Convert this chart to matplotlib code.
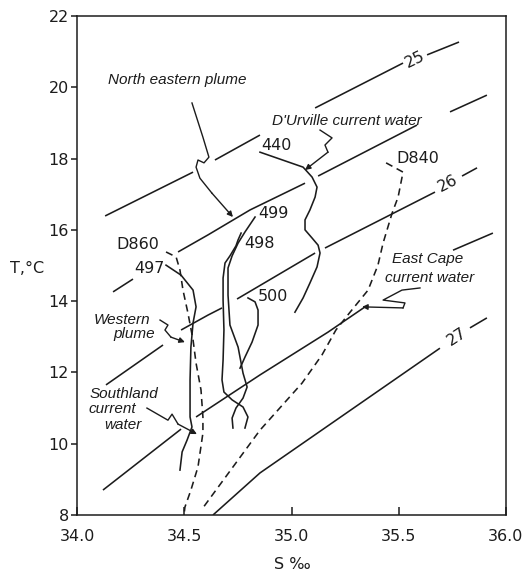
import matplotlib
matplotlib.use('Agg')
import matplotlib.pyplot as plt

# Sigma-t lines (S, T), each split into the drawn pieces
sigma_25 = [
    [(34.131, 16.39), (34.541, 17.62)],
    [(34.643, 17.96), (34.853, 18.66)],
    [(35.110, 19.42), (35.520, 20.68)],
    [(35.632, 20.91), (35.781, 21.27)],
]
sigma_255 = [
    [(34.168, 14.26), (34.261, 14.62)],
    [(34.471, 15.38), (34.611, 15.86), (34.807, 16.56), (35.063, 17.31)],
    [(35.124, 17.51), (35.585, 18.94)],
    [(35.739, 19.31), (35.911, 19.78)],
]
sigma_26 = [
    [(34.135, 11.65), (34.401, 12.77)],
    [(34.485, 13.19), (34.611, 13.61), (34.676, 13.81)],
    [(34.746, 14.06), (35.110, 15.35)],
    [(35.156, 15.49), (35.669, 17.06)],
    [(35.795, 17.51), (35.865, 17.74)],
]
sigma_265 = [
    [(34.121, 8.70), (34.485, 10.41)],
    [(34.555, 10.75), (34.853, 11.93), (35.170, 13.13), (35.343, 13.84)],
    [(35.753, 15.43), (35.939, 15.91)],
]
sigma_27 = [
    [(34.634, 8.00), (34.853, 9.18), (35.692, 12.68)],
    [(35.832, 13.25), (35.911, 13.53)],
]
sigma_labels = ['25', '26', '27']

# Station T-S curves
st_440 = [(34.853, 18.18), (35.054, 17.76), (35.096, 17.48), (35.119, 17.20),
          (35.110, 16.92), (35.086, 16.56), (35.063, 16.28), (35.063, 16.00),
          (35.096, 15.77), (35.124, 15.57), (35.133, 15.35), (35.119, 14.96),
          (35.086, 14.51), (35.054, 14.09), (35.016, 13.69)]
st_499 = [(34.830, 16.36), (34.783, 15.94), (34.751, 15.63), (34.723, 15.27),
          (34.704, 14.93), (34.704, 14.17), (34.713, 13.33), (34.751, 12.71),
          (34.774, 11.98), (34.793, 11.59), (34.774, 11.28), (34.741, 11.00),
          (34.723, 10.72), (34.727, 10.44)]
st_498 = [(34.765, 15.91), (34.751, 15.72), (34.741, 15.55), (34.713, 15.27),
          (34.690, 15.07), (34.681, 14.65), (34.681, 14.03), (34.685, 13.19),
          (34.681, 12.35), (34.676, 11.79), (34.685, 11.45), (34.723, 11.23),
          (34.774, 11.03), (34.797, 10.75), (34.783, 10.44)]
st_500 = [(34.797, 14.09), (34.830, 13.98), (34.844, 13.75), (34.844, 13.33),
          (34.816, 12.85), (34.783, 12.43), (34.760, 12.12)]
st_497 = [(34.415, 15.01), (34.485, 14.73), (34.541, 14.31), (34.555, 13.84),
          (34.541, 13.39), (34.531, 12.71), (34.527, 11.79), (34.527, 10.75),
          (34.536, 10.47), (34.513, 10.10), (34.490, 9.77), (34.480, 9.26)]
st_D860 = [(34.415, 15.38), (34.462, 15.24), (34.480, 14.87), (34.494, 14.31),
           (34.517, 13.67), (34.541, 12.91), (34.555, 12.26), (34.578, 11.51),
           (34.587, 10.75), (34.587, 10.30), (34.564, 9.35), (34.531, 8.70),
           (34.503, 8.22), (34.499, 8.00)]
st_D840 = [(35.441, 17.88), (35.520, 17.62), (35.497, 16.92), (35.469, 16.47),
           (35.427, 15.63), (35.403, 15.01), (35.357, 14.31), (35.273, 13.69),
           (35.207, 13.19), (35.142, 12.49), (35.049, 11.70), (34.853, 10.38),
           (34.587, 8.20)]

# Water mass pointers (squiggly arrows)
arrow_ne_plume = [(34.536, 19.56), (34.587, 18.60), (34.615, 18.04), (34.592, 17.88),
                  (34.564, 17.96), (34.555, 17.76), (34.573, 17.45), (34.629, 17.03),
                  (34.727, 16.36)]
arrow_durville = [(35.133, 18.80), (35.189, 18.58), (35.156, 18.38), (35.170, 18.18),
                  (35.063, 17.68)]
arrow_east_cape = [(35.599, 14.37), (35.515, 14.31), (35.427, 14.03), (35.529, 13.95),
                   (35.520, 13.81), (35.329, 13.84)]
arrow_western = [(34.387, 13.47), (34.424, 13.33), (34.410, 13.19), (34.438, 12.99),
                 (34.503, 12.85)]
arrow_southland = [(34.326, 11.00), (34.424, 10.66), (34.443, 10.83), (34.471, 10.55),
                   (34.559, 10.27)]

x_ticks = [34.0, 34.5, 35.0, 35.5, 36.0]
y_ticks = [8, 10, 12, 14, 16, 18, 20, 22]

ink = '#1c1c1c'
lw = 1.15
num_font = 'DejaVu Sans'
txt_font = 'Liberation Sans'

fig = plt.figure(figsize=(5.25, 5.76), dpi=100)
ax = fig.add_axes([0.1467, 0.1059, 0.8171, 0.8663])

# isopycnals
for line in [sigma_25, sigma_255, sigma_26, sigma_265, sigma_27]:
    for seg in line:
        xs, ys = zip(*seg)
        ax.plot(xs, ys, color=ink, lw=lw, solid_capstyle='butt')

label_pos = [(35.576, 20.79), (35.730, 17.29), (35.772, 12.99)]
label_rot = [26, 27, 33]
for lab, (s, t), r in zip(sigma_labels, label_pos, label_rot):
    ax.text(s, t, lab, ha='center', va='center', rotation=r, fontsize=11.5,
            family=num_font, color=ink)

# station curves
for st in [st_440, st_499, st_498, st_500, st_497]:
    xs, ys = zip(*st)
    ax.plot(xs, ys, color=ink, lw=lw)
for st in [st_D860, st_D840]:
    xs, ys = zip(*st)
    ax.plot(xs, ys, color=ink, lw=lw, linestyle=(0, (4.5, 3)))

# arrows
for path in [arrow_ne_plume, arrow_durville, arrow_east_cape, arrow_western, arrow_southland]:
    xs, ys = zip(*path)
    ax.plot(xs[:-1], ys[:-1], color=ink, lw=1.0)
    ax.annotate('', xy=path[-1], xytext=path[-2],
                arrowprops=dict(arrowstyle='-|>', color=ink, lw=1.0,
                                mutation_scale=8, shrinkA=0, shrinkB=0))

# station labels
stations = [('440', 34.932, 18.38), ('D840', 35.590, 17.99), ('499', 34.914, 16.47),
            ('498', 34.853, 15.63), ('500', 34.914, 14.12), ('D860', 34.284, 15.60),
            ('497', 34.336, 14.93)]
for lab, s, t in stations:
    ax.text(s, t, lab, ha='center', va='center', fontsize=11.5, family=num_font, color=ink)

# water mass names
names = [('North eastern plume', 34.466, 20.20), ("D'Urville current water", 35.259, 19.05),
         ('East Cape', 35.636, 15.18), ('current water', 35.646, 14.65),
         ('Western', 34.212, 13.47), ('plume', 34.266, 13.08),
         ('Southland', 34.219, 11.39), ('current', 34.163, 10.97), ('water', 34.214, 10.52)]
for lab, s, t in names:
    ax.text(s, t, lab, ha='center', va='center', fontsize=11, family=txt_font,
            style='italic', color=ink)

ax.set_xlim(34.0, 36.0)
ax.set_ylim(8, 22)
ax.set_xticks(x_ticks)
ax.set_xticklabels([f'{v:.1f}' for v in x_ticks], family=num_font, fontsize=11.5, color=ink)
ax.set_yticks(y_ticks)
ax.set_yticklabels([str(v) for v in y_ticks], family=num_font, fontsize=11.5, color=ink)
ax.tick_params(axis='x', direction='in', length=5.5, width=1.1, pad=10, colors=ink)
ax.tick_params(axis='y', direction='out', length=4.5, width=1.1, pad=1.5, colors=ink)
for sp in ax.spines.values():
    sp.set_linewidth(1.1)
    sp.set_color(ink)

# axis titles
ax.text(0.501, -0.100, 'S ‰', transform=ax.transAxes, ha='center', va='center',
        family=num_font, fontsize=11.5, color=ink)
ax.text(-0.117, 0.495, 'T,°C', transform=ax.transAxes, ha='center', va='center',
        family=num_font, fontsize=11.5, color=ink)

fig.savefig('out.png', dpi=100)
